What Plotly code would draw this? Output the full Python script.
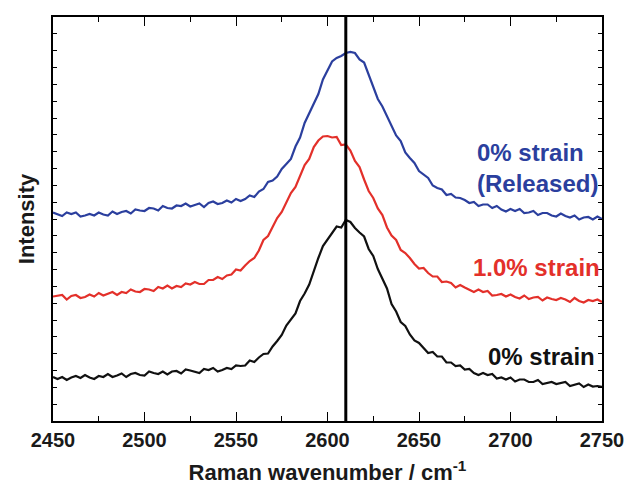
import numpy as np
import plotly.graph_objects as go

# Raman wavenumber grid (cm^-1), 2.5 cm^-1 step
wavenumber = np.arange(2450, 2750.01, 2.5)

# Intensities (arbitrary units, stacked offsets as in the figure)
strain_0 = [
    44, 42, 44, 41, 43.5, 45, 43, 46, 43.5, 42,
    45, 44, 47, 44, 45.5, 47.5, 44, 47, 48, 46,
    45.5, 49.5, 48, 47, 49.5, 46.5, 49.5, 50, 47.5, 51.5,
    50.5, 49, 48, 52, 51, 53, 49.5, 51, 53, 52,
    55.5, 55, 55.5, 60.5, 59, 63.5, 67, 67.5, 74.5, 80,
    86, 95.5, 101.5, 107.5, 120, 127.5, 136.5, 151, 163, 175,
    181.5, 188, 194.5, 193.5, 201, 199, 193, 188.5, 184.5, 172,
    165, 152, 143, 132.5, 117, 109.5, 99, 95, 86.5, 80.5,
    78, 73, 68, 69, 64.5, 64.5, 58.5, 58.5, 55, 55.5,
    51.5, 52, 48, 46, 48, 46, 47, 42.5, 43.5, 41.5,
    43.5, 39.5, 41.5, 41.5, 39, 39, 41, 37, 38, 39,
    37, 38, 39, 35, 36, 37.5, 34, 36.5, 34.5, 35,
    34,
]

strain_1 = [
    124.5, 125, 126, 121.5, 125, 126, 123, 124, 126.5, 124.5,
    128, 125.5, 127, 129, 126, 129, 128, 131.5, 129.5, 129,
    132, 131.5, 130, 134, 132.5, 135.5, 132.5, 135, 134, 137.5,
    136.5, 139, 137, 137, 141, 141, 144, 142, 145.5, 146.5,
    151.5, 150.5, 155.5, 160, 163, 170.5, 181, 185, 194, 203,
    209, 218.5, 228, 234, 245, 256, 262, 274, 280.5, 284.5,
    285, 283.5, 284, 276, 276.5, 270.5, 260, 254, 241.5, 230,
    223, 212.5, 206, 193.5, 185.5, 181, 171, 168, 163, 157,
    152.5, 153, 148, 144.5, 144.5, 139, 139.5, 138, 133.5, 136,
    133.5, 131, 129, 131.5, 129, 130, 125.5, 126, 127, 124.5,
    126.5, 124, 122.5, 125.5, 122, 123.5, 124, 120.5, 123.5, 122,
    121, 123, 121.5, 119, 123, 120, 118.5, 121, 120, 121.5,
    119,
]

strain_released = [
    208.5, 206.5, 205, 208.5, 207, 208.5, 204.5, 205.5, 207, 205.5,
    208.5, 206.5, 205.5, 209.5, 207, 209, 210, 207.5, 211.5, 210.5,
    210, 213, 212.5, 210.5, 215, 213, 212.5, 215.5, 215, 217.5,
    214.5, 216, 217.5, 214, 218, 219.5, 217, 218, 220.5, 218.5,
    222, 220, 222, 225.5, 224, 229.5, 232, 239, 240.5, 244.5,
    252, 257, 262, 274.5, 283.5, 298, 307.5, 318.5, 327, 341.5,
    350.5, 359.5, 363, 365, 368, 369, 368, 361.5, 358.5, 346,
    335.5, 322, 314.5, 305, 294, 285.5, 280, 268.5, 263, 258,
    250, 246.5, 243, 235.5, 233, 231.5, 226, 227, 223.5, 223,
    221, 218, 219, 215, 216.5, 216.5, 213, 215, 211.5, 209.5,
    212, 210, 212, 208, 208.5, 210, 206, 208, 208, 205.5,
    204.5, 207.5, 205, 203.5, 205.5, 201.5, 203.5, 204, 201.5, 204.5,
    202,
]

reference_peak = 2610
x_ticks = [2450, 2500, 2550, 2600, 2650, 2700, 2750]
labels = ["0% strain", "1.0% strain", "0% strain<br>(Released)"]

BLUE = "#2b3f9e"
RED = "#e3302a"
BLACK = "#111111"
FONT = "Liberation Sans, Arial, Helvetica, sans-serif"

fig = go.Figure()
fig.add_trace(go.Scatter(x=wavenumber, y=strain_0, mode="lines",
                         line=dict(color=BLACK, width=2.2), name=labels[0]))
fig.add_trace(go.Scatter(x=wavenumber, y=strain_1, mode="lines",
                         line=dict(color=RED, width=2.2), name=labels[1]))
fig.add_trace(go.Scatter(x=wavenumber, y=strain_released, mode="lines",
                         line=dict(color=BLUE, width=2.2), name=labels[2]))

fig.add_shape(type="line", xref="x", yref="paper", x0=reference_peak, x1=reference_peak,
              y0=0, y1=1, line=dict(color="black", width=3))

ann_font = dict(family=FONT, size=24, weight="bold")
fig.add_annotation(xref="paper", yref="paper", x=0.996, y=0.626, text=labels[2],
                   showarrow=False, xanchor="right", yanchor="middle", align="left",
                   font=dict(color=BLUE, **ann_font))
fig.add_annotation(xref="paper", yref="paper", x=1.0, y=0.381, text=labels[1],
                   showarrow=False, xanchor="right", yanchor="middle",
                   font=dict(color=RED, **ann_font))
fig.add_annotation(xref="paper", yref="paper", x=0.99, y=0.16, text=labels[0],
                   showarrow=False, xanchor="right", yanchor="middle",
                   font=dict(color=BLACK, **ann_font))

fig.update_layout(
    width=629, height=486,
    margin=dict(l=53, r=27, t=17, b=65),
    paper_bgcolor="white", plot_bgcolor="white",
    showlegend=False,
    font=dict(family=FONT, color="#1a1a1a"),
    xaxis=dict(
        range=[2450, 2750], tickvals=x_ticks, ticks="inside", ticklen=9, tickwidth=1.2,
        tickcolor="black", showline=True, linecolor="black", linewidth=1.5, mirror="ticks",
        showgrid=False, zeroline=False, automargin=False,
        tickfont=dict(family=FONT, size=20, weight="bold", color="#1a1a1a"),
        minor=dict(dtick=25, ticks="inside", ticklen=5, tickcolor="black", tickwidth=1.2),
        title=dict(text="Raman wavenumber / cm<sup>-1</sup>", standoff=15,
                   font=dict(family=FONT, size=22, weight="bold", color="#1a1a1a")),
    ),
    yaxis=dict(
        range=[0, 404], tick0=0, dtick=404 / 24, ticks="inside", ticklen=4, tickwidth=1.2,
        tickcolor="black", showticklabels=False, showline=True, linecolor="black",
        linewidth=1.5, mirror="ticks", showgrid=False, zeroline=False, automargin=False,
        title=dict(text="Intensity", standoff=11,
                   font=dict(family=FONT, size=22, weight="bold", color="#1a1a1a")),
    ),
)

fig.write_html("out.html")
